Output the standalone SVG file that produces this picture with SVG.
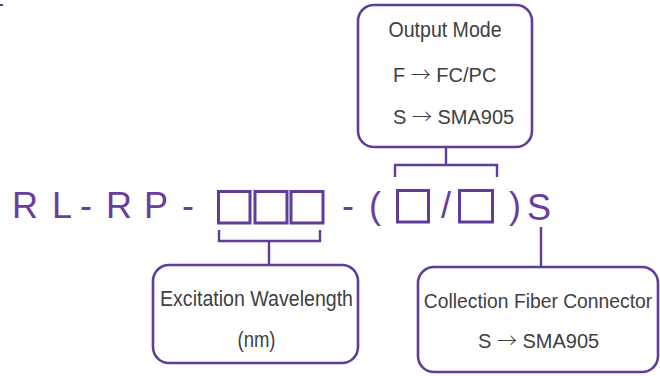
<svg xmlns="http://www.w3.org/2000/svg" width="660" height="376" viewBox="0 0 660 376">
<style>
.box{fill:#fff;stroke:#5f3d99;stroke-width:2.6}
.sq{fill:none;stroke:#5f3d99;stroke-width:3}
.ln{fill:none;stroke:#5f3d99;stroke-width:2.4}
.big{font-family:"Liberation Sans",Arial,sans-serif;font-size:36px;fill:#6a3d9e;text-anchor:middle}
.lbl{font-family:"Liberation Sans",Arial,sans-serif;font-size:22px;fill:#404040}
.sm{font-size:20px}
.ar{font-family:"Noto Sans CJK SC",sans-serif;font-weight:300}
</style>
<rect x="0" y="4" width="3" height="2" fill="#5f3d99"/>
<g id="code">
<text class="big" x="25" y="218">R</text>
<text class="big" x="62" y="218">L</text>
<text class="big" x="86" y="218">-</text>
<text class="big" x="119" y="218">R</text>
<text class="big" x="156" y="218">P</text>
<text class="big" x="188" y="218">-</text>
<rect class="sq" x="218.5" y="191.5" width="31.5" height="31.5"/>
<rect class="sq" x="255" y="191.5" width="32" height="31.5"/>
<rect class="sq" x="291" y="191.5" width="32" height="31.5"/>
<text class="big" x="348" y="218">-</text>
<text class="big" x="375" y="218">(</text>
<rect class="sq" x="397.5" y="190.5" width="31" height="31.5"/>
<text class="big" x="446" y="218">/</text>
<rect class="sq" x="459.5" y="190.5" width="33" height="31.5"/>
<text class="big" x="515" y="218">)</text>
<text class="big" x="539" y="220">S</text>
</g>
<g id="connectors">
<path class="ln" d="M219,230 V241 H320 V230 M269,241 V265"/>
<path class="ln" d="M395,177 V165 H497 V177 M446,165 V147"/>
<path class="ln" d="M541,227 V267"/>
</g>
<g id="output-mode">
<rect class="box" x="358" y="5" width="174" height="142" rx="16"/>
<text class="lbl" x="388.5" y="37" textLength="113" lengthAdjust="spacingAndGlyphs">Output Mode</text>
<text class="lbl sm" x="393" y="82">F <tspan class="ar">→</tspan> FC/PC</text>
<text class="lbl sm" x="393" y="124">S <tspan class="ar">→</tspan> SMA905</text>
</g>
<g id="excitation-wavelength">
<rect class="box" x="153" y="265" width="205" height="98" rx="16"/>
<text class="lbl" x="160" y="306" textLength="193" lengthAdjust="spacingAndGlyphs">Excitation Wavelength</text>
<text class="lbl" x="237.5" y="347" textLength="38" lengthAdjust="spacingAndGlyphs">(nm)</text>
</g>
<g id="collection-fiber-connector">
<rect class="box" x="418" y="267" width="240" height="105" rx="16"/>
<text class="lbl" x="538" y="308" text-anchor="middle" style="font-size:19.3px">Collection Fiber Connector</text>
<text class="lbl sm" x="478" y="348">S <tspan class="ar">→</tspan> SMA905</text>
</g>
</svg>
